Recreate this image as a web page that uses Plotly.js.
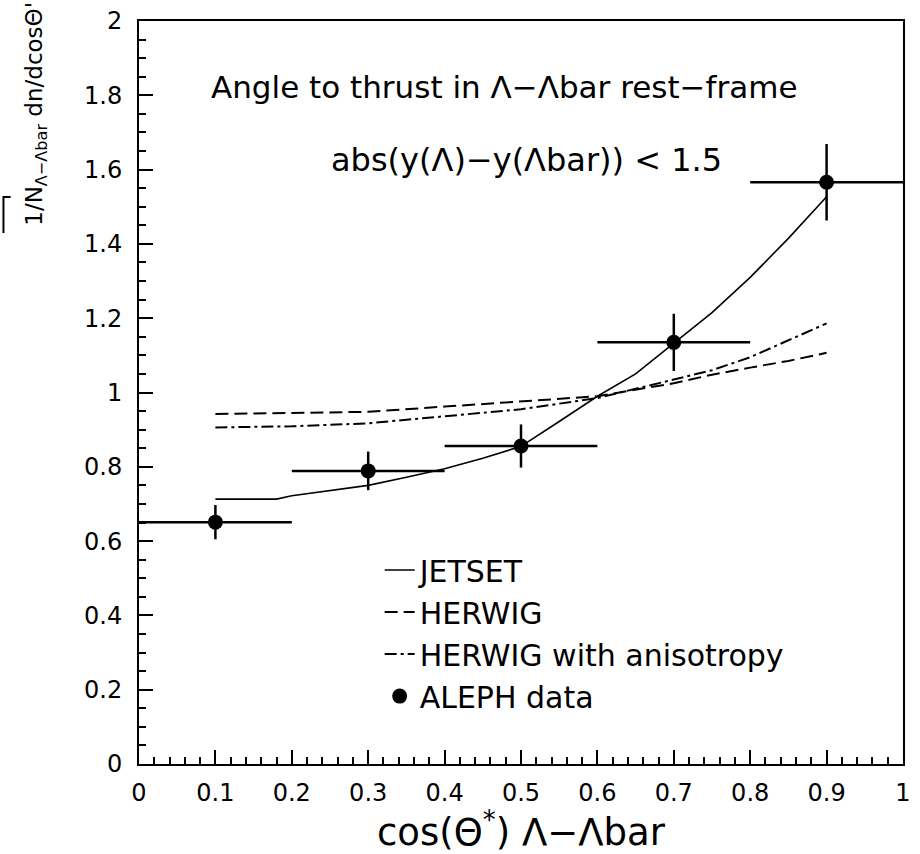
<!DOCTYPE html>
<html>
<head>
<meta charset="utf-8">
<script src="https://cdn.plot.ly/plotly-3.0.1.min.js"></script>
<style>html,body{margin:0;padding:0;background:#fff;}#chart{width:920px;height:854px;}</style>
</head>
<body>
<div id="chart"></div>
<script>
// ALEPH data points
const dataX = [0.1, 0.3, 0.5, 0.7, 0.9];
const dataY = [0.651, 0.789, 0.856, 1.135, 1.566];
const dataErrY = [0.046, 0.052, 0.058, 0.077, 0.103];
const dataErrX = [0.1, 0.1, 0.1, 0.1, 0.1];

// JETSET prediction
const jetsetX = [0.1, 0.18, 0.2, 0.25, 0.3, 0.35, 0.4, 0.45, 0.5, 0.55, 0.6, 0.65, 0.7, 0.75, 0.8, 0.85, 0.9];
const jetsetY = [0.713, 0.713, 0.722, 0.735, 0.75, 0.772, 0.795, 0.823, 0.855, 0.922, 0.99, 1.05, 1.132, 1.215, 1.31, 1.415, 1.527];

// HERWIG prediction
const herwigX = [0.1, 0.2, 0.3, 0.4, 0.5, 0.6, 0.7, 0.75, 0.8, 0.85, 0.9];
const herwigY = [0.942, 0.945, 0.948, 0.962, 0.975, 0.99, 1.025, 1.048, 1.067, 1.085, 1.107];

// HERWIG with anisotropy
const herwigAnisoX = [0.1, 0.2, 0.3, 0.4, 0.5, 0.6, 0.7, 0.75, 0.8, 0.85, 0.9];
const herwigAnisoY = [0.906, 0.909, 0.917, 0.935, 0.955, 0.985, 1.035, 1.06, 1.095, 1.14, 1.186];

const FONT = 'DejaVu Sans, Liberation Sans, sans-serif';

const traces = [
  {x: jetsetX, y: jetsetY, mode: 'lines', name: 'JETSET',
   line: {color: '#000', width: 1.6}},
  {x: herwigX, y: herwigY, mode: 'lines', name: 'HERWIG',
   line: {color: '#000', width: 2, dash: '13px,6px'}},
  {x: herwigAnisoX, y: herwigAnisoY, mode: 'lines', name: 'HERWIG with anisotropy',
   line: {color: '#000', width: 2, dash: '12px,4px,3px,4px'}},
  {x: dataX, y: dataY, mode: 'markers', name: 'ALEPH data',
   marker: {color: '#000', size: 15, symbol: 'circle'},
   error_y: {type: 'data', array: dataErrY, visible: true, color: '#000', thickness: 2.5, width: 0},
   error_x: {type: 'data', array: dataErrX, visible: true, color: '#000', thickness: 2.5, width: 0}}
];

const layout = {
  width: 920, height: 854,
  margin: {l: 139, r: 17, t: 21, b: 90},
  paper_bgcolor: '#fff', plot_bgcolor: '#fff',
  font: {family: FONT, color: '#000', size: 24},
  showlegend: true,
  legend: {x: 0.315, y: 0.296, xanchor: 'left', yanchor: 'top',
           bgcolor: 'rgba(0,0,0,0)', borderwidth: 0,
           font: {family: FONT, size: 30, color: '#000'}, tracegroupgap: 0},
  xaxis: {
    range: [0, 1], dtick: 0.1, tick0: 0,
    showgrid: false, zeroline: false,
    showline: true, linecolor: '#000', linewidth: 2, mirror: true,
    ticks: 'inside', ticklen: 14, tickwidth: 2, tickcolor: '#000',
    minor: {dtick: 0.02, ticks: 'inside', ticklen: 7, tickwidth: 2, tickcolor: '#000', showgrid: false},
    tickfont: {family: FONT, size: 24, color: '#000'},
    ticklabelstandoff: 6,
    title: {text: 'cos(Θ<sup>*</sup>) Λ−Λbar', font: {family: FONT, size: 37, color: '#000'}, standoff: 6}
  },
  yaxis: {
    range: [0, 2], dtick: 0.2, tick0: 0,
    showgrid: false, zeroline: false,
    showline: true, linecolor: '#000', linewidth: 2, mirror: true,
    ticks: 'inside', ticklen: 14, tickwidth: 2, tickcolor: '#000',
    minor: {dtick: 0.05, ticks: 'inside', ticklen: 7, tickwidth: 2, tickcolor: '#000', showgrid: false},
    tickfont: {family: FONT, size: 24, color: '#000'},
    ticklabelstandoff: 10
  },
  annotations: [
    {xref: 'paper', yref: 'paper', x: 0.479, y: 0.911, xanchor: 'center', yanchor: 'middle',
     text: 'Angle to thrust in Λ−Λbar rest−frame', showarrow: false,
     font: {family: FONT, size: 31, color: '#000'}},
    {xref: 'paper', yref: 'paper', x: 0.5066, y: 0.813, xanchor: 'center', yanchor: 'middle',
     text: 'abs(y(Λ)−y(Λbar)) &lt; 1.5', showarrow: false,
     font: {family: FONT, size: 32, color: '#000'}},
    {xref: 'paper', yref: 'paper', x: -0.135, y: 0.875, xanchor: 'center', yanchor: 'middle',
     textangle: -90, showarrow: false,
     text: '1/N<sub>Λ−Λbar</sub> dn/dcosΘ\'',
     font: {family: FONT, size: 23, color: '#000'}}
  ],
  shapes: [
    {type: 'path', xref: 'paper', yref: 'paper',
     path: 'M -0.168 0.763 L -0.1774 0.763 L -0.1774 0.7147',
     line: {color: '#000', width: 2}}
  ]
};

Plotly.newPlot('chart', traces, layout, {displayModeBar: false, staticPlot: true});
</script>
</body>
</html>
